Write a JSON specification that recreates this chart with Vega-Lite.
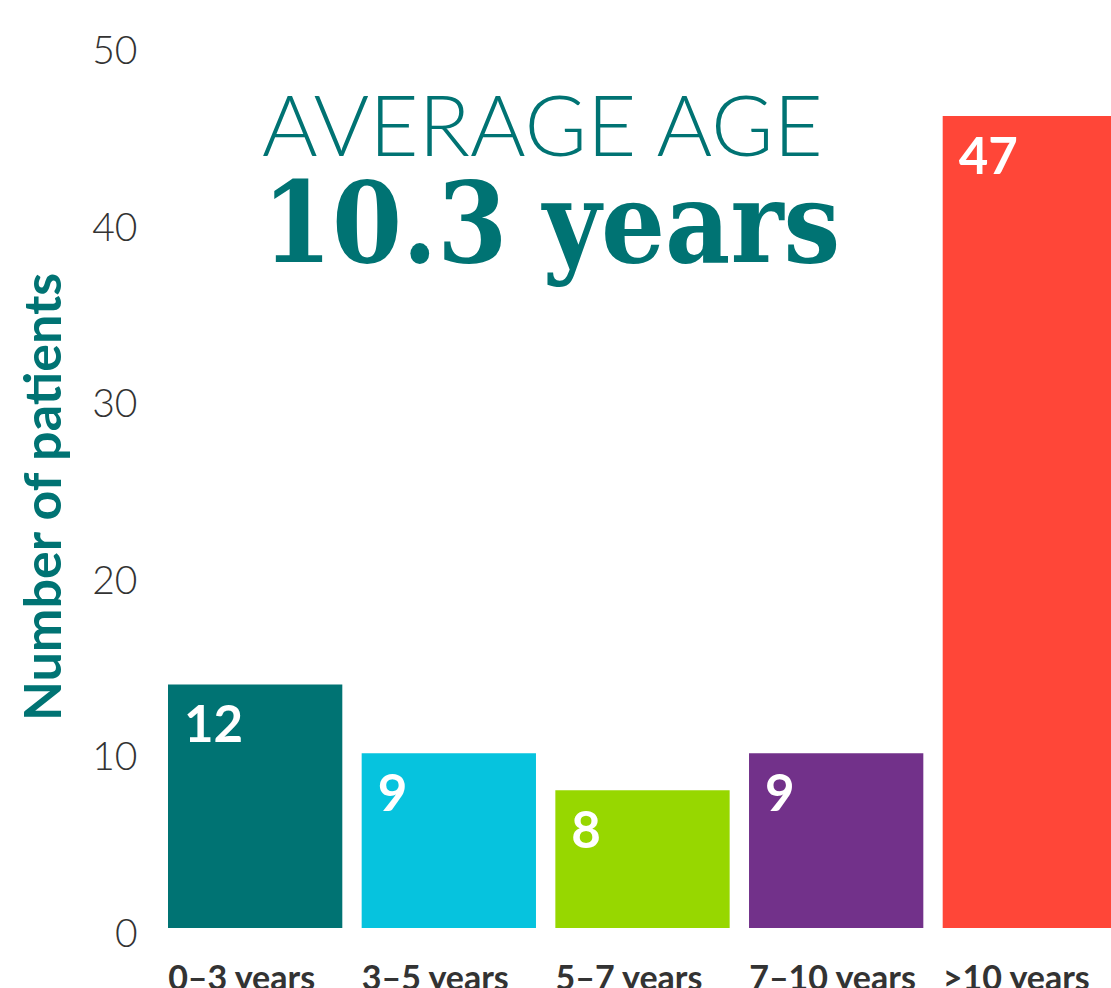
{
  "$schema": "https://vega.github.io/schema/vega-lite/v6.json",
  "width": 943,
  "height": 882.5,
  "autosize": {"type": "none"},
  "padding": {"left": 168, "top": 45.5, "right": 0, "bottom": 60},
  "background": "white",
  "config": {"view": {"stroke": null}},
  "data": {"values": [
    {"age": "0–3 years", "patients": 13.8, "label": "12"},
    {"age": "3–5 years", "patients": 9.9, "label": "9"},
    {"age": "5–7 years", "patients": 7.8, "label": "8"},
    {"age": "7–10 years", "patients": 9.9, "label": "9"},
    {"age": ">10 years", "patients": 46, "label": "47"}
  ]},
  "title": {
    "text": "AVERAGE AGE",
    "subtitle": "10.3 years",
    "anchor": "start",
    "frame": "group",
    "orient": "top",
    "offset": -252,
    "dx": 94,
    "font": "Lato",
    "fontWeight": 300,
    "fontSize": 85,
    "color": "#007373",
    "subtitleFont": "DejaVu Serif Condensed",
    "subtitleFontWeight": "bold",
    "subtitleFontSize": 112,
    "subtitleColor": "#007373",
    "subtitlePadding": 0
  },
  "encoding": {
    "x": {
      "field": "age",
      "type": "nominal",
      "sort": null,
      "scale": {"range": [0, 949], "paddingInner": 0.1, "paddingOuter": 0},
      "axis": {
        "title": null,
        "domain": false,
        "ticks": false,
        "labelAngle": 0,
        "labelAlign": "left",
        "labelOffset": -87,
        "labelBaseline": "top",
        "labelPadding": 34,
        "labelFont": "Lato",
        "labelFontWeight": "bold",
        "labelFontSize": 34,
        "labelColor": "#333333"
      }
    }
  },
  "layer": [
    {
      "mark": {"type": "bar", "clip": true},
      "encoding": {
        "y": {
          "field": "patients",
          "type": "quantitative",
          "scale": {"domain": [0, 50], "nice": false},
          "axis": {
            "values": [0, 10, 20, 30, 40, 50],
            "domain": false,
            "ticks": false,
            "grid": false,
            "labelFont": "Lato",
            "labelFontWeight": 300,
            "labelFontSize": 39,
            "labelColor": "#333333",
            "labelPadding": 31,
            "labelOffset": 6,
            "title": "Number of patients",
            "titleFont": "Lato",
            "titleFontWeight": "bold",
            "titleFontSize": 52,
            "titleColor": "#007373",
            "titleX": -108,
            "titleY": 451,
            "titleAngle": -90,
            "titleAlign": "center",
            "titleBaseline": "alphabetic"
          }
        },
        "color": {
          "field": "age",
          "type": "nominal",
          "sort": null,
          "scale": {
            "domain": ["0–3 years", "3–5 years", "5–7 years", "7–10 years", ">10 years"],
            "range": ["#007373", "#06C3DE", "#97D700", "#72318A", "#FF4638"]
          },
          "legend": null
        }
      }
    },
    {
      "mark": {"type": "text", "align": "left", "baseline": "top", "dx": 16, "dy": 18, "color": "white", "font": "Lato", "fontWeight": "bold", "fontSize": 51, "clip": true},
      "encoding": {
        "x": {"field": "age", "type": "nominal", "sort": null, "bandPosition": 0},
        "y": {"field": "patients", "type": "quantitative"},
        "text": {"field": "label"}
      }
    }
  ]
}
